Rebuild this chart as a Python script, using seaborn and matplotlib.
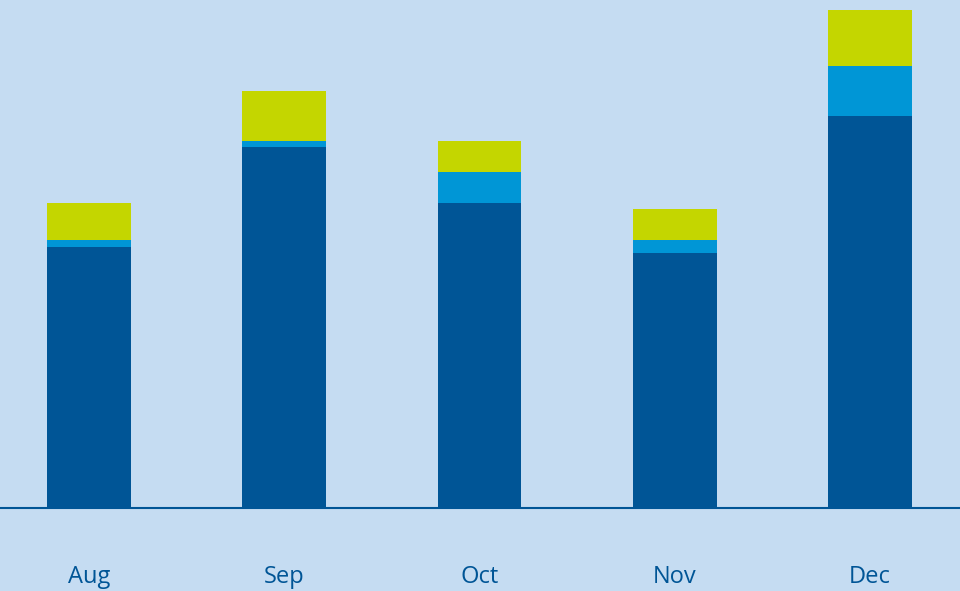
import pandas as pd
import matplotlib.pyplot as plt
import seaborn as sns

months = ['Aug', 'Sep', 'Oct', 'Nov', 'Dec']
dark = [261, 361, 305, 255, 392]
medium = [7, 6, 31, 13, 50]
lime = [37, 50, 31, 31, 56]

df = pd.DataFrame({'month': months, 'dark': dark, 'medium': medium, 'lime': lime})
df['mid_top'] = df['dark'] + df['medium']
df['total'] = df['mid_top'] + df['lime']

bg = '#c5dcf2'
sns.set_theme(style='white')
plt.rcParams['font.family'] = ['Open Sans', 'DejaVu Sans']

fig = plt.figure(figsize=(9.6, 5.91), dpi=100, facecolor=bg)
ax = fig.add_axes([0, 0.1404, 1, 0.8596])
ax.set_facecolor(bg)

# stacked: draw totals first, then overlay lower segments
sns.barplot(data=df, x='month', y='total', color='#c4d600', saturation=1, width=0.43, linewidth=0, ax=ax)
sns.barplot(data=df, x='month', y='mid_top', color='#0096d6', saturation=1, width=0.43, linewidth=0, ax=ax)
sns.barplot(data=df, x='month', y='dark', color='#005596', saturation=1, width=0.43, linewidth=0, ax=ax)

ax.set_xlim(-0.456, 4.461)
ax.set_ylim(0, 508)
ax.set_xlabel('')
ax.set_ylabel('')
ax.set_yticks([])
for s in ['top', 'left', 'right']:
    ax.spines[s].set_visible(False)
ax.spines['bottom'].set_color('#005596')
ax.spines['bottom'].set_linewidth(1.5)
ax.tick_params(axis='x', length=0, pad=41, labelsize=17, labelcolor='#005596')

fig.savefig('out.png', dpi=100, facecolor=bg)
